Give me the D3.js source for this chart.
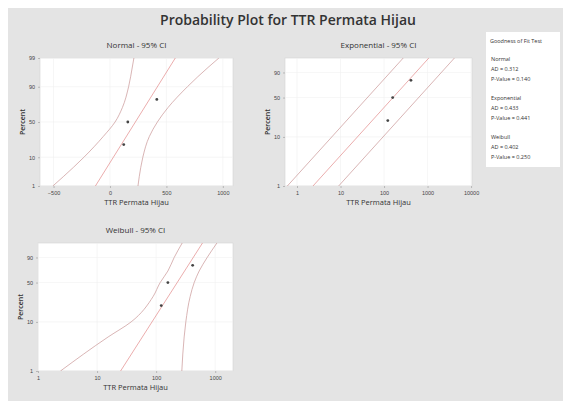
<!DOCTYPE html>
<html>
<head>
<meta charset="utf-8">
<script src="https://cdn.jsdelivr.net/npm/d3@7"></script>
<style>
  body { margin: 0; background: #fff; }
  svg { display: block; font-family: "Open Sans", "Noto Sans", sans-serif; }
  .tick text { fill: #444; font-size: 5.5px; }
  .tick line { stroke: #999; stroke-width: 0.6; }
</style>
</head>
<body>
<div class="content"></div>
<script>
//--> Data
const ttrValues = [122, 158, 415];
const plotPositions = [20.6, 50, 79.4];

const normalTicksX = [-500, 0, 500, 1000];
const normalTicksY = [1, 10, 50, 90, 99];
const normalPct = [1, 5, 10, 30, 50, 70, 90, 95, 99];
const normalLower = [-506, -323, -231, -59, 45, 110, 165, 183, 212];
const normalUpper = [248, 273, 291, 349, 420, 514, 686, 778, 965];
const normalFitPct = [1, 99];
const normalFit = [-129, 579];

const expTicksX = [1, 10, 100, 1000, 10000];
const expTicksY = [1, 10, 50, 90];
const expPct = [1, 99];
const expFit = [2.33, 1068];
const expLower = [0.6, 276];
const expUpper = [9.05, 4145];

const weibullTicksX = [1, 10, 100, 1000];
const weibullTicksY = [1, 10, 50, 90];
const weibullPct = [1, 5, 10, 30, 50, 70, 90, 99];
const weibullLower = [2.4, 15.4, 37.7, 89, 117, 158, 202, 276];
const weibullUpper = [272, 298, 318, 377, 441, 535, 731, 1069];
const weibullFitPct = [1, 99];
const weibullFit = [25, 609];

const gofNames = ["Normal", "Exponential", "Weibull"];
const gofAD = ["0.312", "0.433", "0.402"];
const gofP = ["0.140", "0.441", "0.250"];

//--> Constants
const width = 563;
const height = 401;
const textColor = "#333";
const fitColor = "#e38a8a";
const ciColor = "#c99595";

const svg = d3
  .select(".content")
  .append("svg")
  .attr("width", width)
  .attr("height", height);

svg.append("rect").attr("x", 8).attr("y", 8)
  .attr("width", width - 8).attr("height", height - 8)
  .attr("fill", "#e4e4e4");

//--> Helper functions
// inverse normal cdf (Acklam)
function probit(p) {
  const a = [-39.6968302866538, 220.946098424521, -275.928510446969, 138.357751867269, -30.6647980661472, 2.50662827745924];
  const b = [-54.4760987982241, 161.585836858041, -155.698979859887, 66.8013118877197, -13.2806815528857];
  const c = [-0.00778489400243029, -0.322396458041136, -2.40075827716184, -2.54973253934373, 4.37466414146497, 2.93816398269878];
  const d = [0.00778469570904146, 0.32246712907004, 2.445134137143, 3.75440866190742];
  const pl = 0.02425;
  let q, r;
  if (p < pl) {
    q = Math.sqrt(-2 * Math.log(p));
    return (((((c[0]*q+c[1])*q+c[2])*q+c[3])*q+c[4])*q+c[5]) / ((((d[0]*q+d[1])*q+d[2])*q+d[3])*q+1);
  }
  if (p > 1 - pl) {
    q = Math.sqrt(-2 * Math.log(1 - p));
    return -(((((c[0]*q+c[1])*q+c[2])*q+c[3])*q+c[4])*q+c[5]) / ((((d[0]*q+d[1])*q+d[2])*q+d[3])*q+1);
  }
  q = p - 0.5;
  r = q * q;
  return (((((a[0]*r+a[1])*r+a[2])*r+a[3])*r+a[4])*r+a[5])*q / (((((b[0]*r+b[1])*r+b[2])*r+b[3])*r+b[4])*r+1);
}
const normalT = pct => probit(pct / 100);
const weibullT = pct => Math.log(-Math.log(1 - pct / 100));

const zip = (pct, vals) => pct.map((p, i) => ({ p, v: vals[i] }));

function drawPanel(cfg, idx) {
  const [x0, x1] = cfg.xRange;
  const [yb, yt] = cfg.yRange;
  const yScale = d3.scaleLinear()
    .domain([cfg.t(1), cfg.t(99)])
    .range([yb, yt]);
  const yPos = p => yScale(cfg.t(p));
  const xScale = cfg.xScale.range([x0, x1]);

  const g = svg.append("g");

  g.append("rect")
    .attr("x", x0).attr("y", yt)
    .attr("width", x1 - x0).attr("height", yb - yt)
    .attr("fill", "#fff").attr("stroke", "#d4d4d4").attr("stroke-width", 0.6);

  g.append("clipPath").attr("id", "clip" + idx)
    .append("rect")
    .attr("x", x0).attr("y", yt)
    .attr("width", x1 - x0).attr("height", yb - yt);

  //--> Gridlines
  g.selectAll(".gx").data(cfg.ticksX).enter().append("line")
    .attr("x1", d => xScale(d)).attr("x2", d => xScale(d))
    .attr("y1", yt).attr("y2", yb)
    .attr("stroke", "#f0f0f0").attr("stroke-width", 0.6);
  g.selectAll(".gy").data(cfg.ticksY).enter().append("line")
    .attr("x1", x0).attr("x2", x1)
    .attr("y1", d => yPos(d)).attr("y2", d => yPos(d))
    .attr("stroke", "#f0f0f0").attr("stroke-width", 0.6);

  //--> Axes
  g.append("g")
    .attr("transform", `translate(0, ${yb})`)
    .call(d3.axisBottom(xScale).tickValues(cfg.ticksX)
      .tickFormat(d3.format("d")).tickSize(2).tickPadding(3))
    .call(a => a.select(".domain").remove());

  g.append("g")
    .attr("transform", `translate(${x0}, 0)`)
    .call(d3.axisLeft(yScale).tickValues(cfg.ticksY.map(cfg.t))
      .tickFormat((d, i) => cfg.ticksY[i]).tickSize(2).tickPadding(3))
    .call(a => a.select(".domain").remove());

  //--> Titles
  g.append("text")
    .attr("x", (x0 + x1) / 2).attr("y", yt - 10)
    .attr("text-anchor", "middle")
    .attr("font-size", "8px").attr("fill", textColor)
    .text(cfg.title);

  g.append("text")
    .attr("x", (x0 + x1) / 2).attr("y", yb + 19)
    .attr("text-anchor", "middle")
    .attr("font-size", "7.5px").attr("fill", textColor)
    .text("TTR Permata Hijau");

  g.append("text")
    .attr("transform", `translate(${x0 - 15}, ${(yt + yb) / 2}) rotate(-90)`)
    .attr("text-anchor", "middle")
    .attr("font-size", "7px").attr("font-weight", 600).attr("fill", textColor)
    .text("Percent");

  //--> Fit and confidence lines
  const line = d3.line()
    .x(d => xScale(d.v))
    .y(d => yPos(d.p))
    .curve(d3.curveMonotoneY);

  const lines = g.append("g").attr("clip-path", `url(#clip${idx})`);
  lines.append("path").datum(zip(cfg.ciPct, cfg.lower))
    .attr("d", line).attr("fill", "none")
    .attr("stroke", ciColor).attr("stroke-width", 0.7);
  lines.append("path").datum(zip(cfg.ciPct, cfg.upper))
    .attr("d", line).attr("fill", "none")
    .attr("stroke", ciColor).attr("stroke-width", 0.7);
  lines.append("path").datum(zip(cfg.fitPct, cfg.fit))
    .attr("d", line).attr("fill", "none")
    .attr("stroke", fitColor).attr("stroke-width", 0.7);

  //--> Data points
  g.selectAll(".pt").data(zip(plotPositions, ttrValues)).enter().append("circle")
    .attr("cx", d => xScale(d.v)).attr("cy", d => yPos(d.p))
    .attr("r", 1.4).attr("fill", "#444");
}

//--> Main title
svg.append("text")
  .attr("x", 288).attr("y", 25)
  .attr("text-anchor", "middle")
  .attr("font-size", "14px").attr("font-weight", 600).attr("fill", textColor)
  .text("Probability Plot for TTR Permata Hijau");

drawPanel({
  title: "Normal - 95% CI",
  xRange: [40, 233], yRange: [186, 58],
  xScale: d3.scaleLinear().domain([-620, 1090]),
  t: normalT,
  ticksX: normalTicksX, ticksY: normalTicksY,
  ciPct: normalPct, lower: normalLower, upper: normalUpper,
  fitPct: normalFitPct, fit: normalFit
}, 0);

drawPanel({
  title: "Exponential - 95% CI",
  xRange: [285, 472], yRange: [186, 58],
  xScale: d3.scaleLog().domain([0.53, 10500]),
  t: weibullT,
  ticksX: expTicksX, ticksY: expTicksY,
  ciPct: expPct, lower: expLower, upper: expUpper,
  fitPct: expPct, fit: expFit
}, 1);

drawPanel({
  title: "Weibull - 95% CI",
  xRange: [38, 233], yRange: [371, 243],
  xScale: d3.scaleLog().domain([1, 2000]),
  t: weibullT,
  ticksX: weibullTicksX, ticksY: weibullTicksY,
  ciPct: weibullPct, lower: weibullLower, upper: weibullUpper,
  fitPct: weibullFitPct, fit: weibullFit
}, 2);

//--> Goodness of fit box
const legend = svg.append("g").attr("id", "legend");
legend.append("rect")
  .attr("x", 486).attr("y", 32).attr("width", 74).attr("height", 135)
  .attr("fill", "#fff");
legend.append("text")
  .attr("x", 490).attr("y", 43)
  .attr("font-size", "5.5px").attr("fill", textColor)
  .text("Goodness of Fit Test");

const rows = legend.selectAll(".gof").data(gofNames).enter().append("g")
  .attr("transform", (d, i) => `translate(491, ${61 + i * 39})`);
rows.append("text").attr("y", 0).attr("font-size", "5.5px").attr("fill", textColor)
  .text(d => d);
rows.append("text").attr("y", 10).attr("font-size", "5.5px").attr("fill", textColor)
  .text((d, i) => `AD = ${gofAD[i]}`);
rows.append("text").attr("y", 20).attr("font-size", "5.5px").attr("fill", textColor)
  .text((d, i) => `P-Value = ${gofP[i]}`);
</script>
</body>
</html>
